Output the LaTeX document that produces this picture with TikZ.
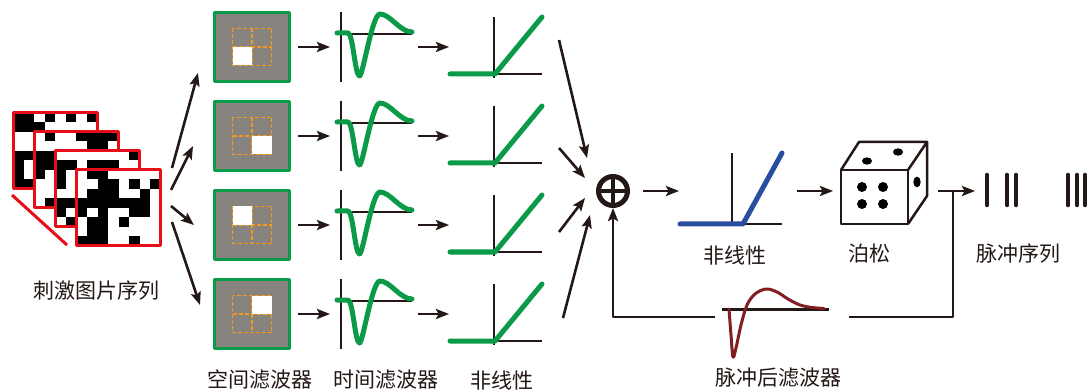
\documentclass[tikz,border=0pt]{standalone}
\usepackage{fontspec}
\setmainfont{Noto Sans CJK SC}
\usetikzlibrary{arrows.meta, positioning, calc}
\definecolor{ink}{HTML}{231815}
\definecolor{stimred}{HTML}{E60E19}
\definecolor{filtgreen}{HTML}{0B9B48}
\definecolor{surround}{HTML}{87837E}
\definecolor{gridorange}{HTML}{F39A1E}
\definecolor{outblue}{HTML}{2A4E9E}
\definecolor{spikered}{HTML}{821E22}
\newcommand{\noiseframe}[2]{%
  \fill[white] (#1,#2) rectangle ++(84,76);
  \foreach \i in {0,...,7}{%
    \foreach \j in {0,...,7}{%
      \pgfmathrandominteger{\pix}{0}{1}%
      \ifnum\pix=1 \fill[black] (#1+10.5*\i,#2+9.5*\j) rectangle ++(10.5,9.5);\fi}}
  \draw[stimred, line width=3] (#1,#2) rectangle ++(84,76);}

\begin{document}
\begin{tikzpicture}[x=1pt, y=-1pt, line join=round,
  lab/.style={text=ink, font=\fontsize{21}{25}\selectfont, inner sep=0pt},
  arr/.style={draw=ink, line width=2.6, -{Stealth[length=13pt, width=10pt, inset=2.5pt]}},
  wire/.style={draw=ink, line width=2.6},
  axis/.style={draw=ink, line width=2.2},
  curve/.style={draw=#1, line width=5, line cap=round},
  sfbox/.style={draw=filtgreen, line width=3, fill=surround, minimum width=75,
    minimum height=69, inner sep=0pt},
  plotbox/.style={inner sep=0pt, outer sep=0pt, minimum width=#1, minimum height=70},
  dashgrid/.style={gridorange, line width=1.3, dash pattern=on 4pt off 2pt}]
  \fill[white] (0,0) rectangle (1087,390);
  \useasboundingbox (0,0) rectangle (1087,390);

  % stack of noise frames
  \pgfmathsetseed{17}
  \foreach \k in {0,...,3}{\noiseframe{13+21.3*\k}{113+18.9*\k}}
  \draw[stimred, line width=3] (12,195) -- (67,245);
  \node[lab] (stimlab) at (97,291) {刺激图片序列};

  % four subunits: spatial filter, temporal filter, nonlinearity
  \foreach \r/\wx/\wy in {1/-1/1, 2/1/1, 3/-1/-1, 4/1/-1}{
    \pgfmathsetmacro{\ry}{47+89*(\r-1)}
    \node[sfbox] (sf\r) at (252,\ry) {};
    \begin{scope}[shift={(252,\ry)}]
      \draw[dashgrid] (-19.5,-18.5) rectangle (19.5,18.5)
        (0,-18.5) -- (0,18.5) (-19.5,0) -- (19.5,0);
      \fill[white] (0,0) rectangle (19.5*\wx,18.5*\wy);
    \end{scope}
    \node[plotbox=74] (tf\r) at (375,\ry) {};
    \node[plotbox=92] (nl\r) at (496,\ry) {};
    \begin{scope}[shift={(0,\ry)}]
      \draw[axis] (341,-35) -- (341,35) (340,-13) -- (412,-13);
      \draw[curve=filtgreen] (337,-14) -- (348,-14)
        .. controls (353,-14) and (355,29) .. (359.5,29)
        .. controls (363,29) and (372,-33) .. (380,-33)
        .. controls (390,-33) and (400,-15) .. (412,-15);
      \draw[axis] (494,-30) -- (494,31) (494,27) -- (542,27);
      \draw[curve=filtgreen] (450,27) -- (495,27) -- (542,-30);
    \end{scope}
    \draw[arr, shorten <=7pt, shorten >=8pt] (sf\r) -- (tf\r);
    \draw[arr, shorten <=6pt, shorten >=1pt] (tf\r) -- (nl\r);
  }
  \node[lab] (sflab) at (260,380) {空间滤波器};
  \node[lab] (tflab) at (386,380) {时间滤波器};
  \node[lab] (nllab) at (502,380) {非线性};

  % fan out from the stimulus
  \foreach \k/\ax/\ay/\bx/\by in {1/172/168/198/73, 2/171/190/193/146,
      3/171/206/194/225, 4/172/222/200/305}{
    \coordinate (fan\k) at (\ax,\ay);
    \coordinate (feed\k) at (\bx,\by);
    \draw[arr] (fan\k) -- (feed\k);
  }

  % summation
  \node[circle, draw=ink, line width=5, minimum size=29, inner sep=0pt] (sum) at (613,191) {};
  \draw[ink, line width=4] ($(sum)+(-12,0)$) -- ($(sum)+(12,0)$)
    ($(sum)+(0,-12)$) -- ($(sum)+(0,12)$);
  \foreach \k/\ax/\ay/\bx/\by in {1/559/40/587/158, 2/559/148/585/178,
      3/559/232/585/198, 4/563/318/590/215}{
    \coordinate (out\k) at (\ax,\ay);
    \coordinate (in\k) at (\bx,\by);
    \draw[arr] (out\k) -- (in\k);
  }

  % output nonlinearity
  \node[plotbox=102] (nlout) at (731,191) {};
  \draw[axis] (732,153) -- (732,222) (732,224) -- (782,224);
  \draw[curve=outblue] (680,224) -- (743,224) -- (782,153);
  \node[lab] (nloutlab) at (735,255) {非线性};
  \draw[arr, shorten <=13pt, shorten >=1pt] (sum) -- (nlout);

  % poisson die
  \node[plotbox=86, minimum height=98] (dice) at (884,191) {};
  \draw[ink, line width=2.5, fill=white] (841,170) rectangle (908,224);
  \draw[ink, line width=2.5] (841,170) -- (859,142) -- (927,142) -- (908,170)
    (908,224) -- (927,196) -- (927,142);
  \foreach \dx/\dy in {862/187, 883/187, 862/204, 883/204}
    \fill[black] (\dx,\dy) circle[radius=5];
  \fill[black] (867,161) ellipse[x radius=5, y radius=3.7]
    (898,152) ellipse[x radius=5, y radius=3.7]
    (917,182) ellipse[x radius=3.7, y radius=5.3];
  \node[lab] (dicelab) at (869,254) {泊松};
  \draw[arr, shorten <=15pt, shorten >=8pt] (nlout) -- (dice.west);

  % spike train
  \node[plotbox=102] (spikes) at (1036,191) {};
  \foreach \sx in {987,1007,1016,1068,1077,1085}
    \draw[ink, line width=3.5, line cap=round] (\sx,174.5) -- (\sx,205.5);
  \node[lab] (spikelab) at (1018,254) {脉冲序列};
  \draw[arr, shorten <=11pt, shorten >=10pt] (dice) -- (spikes);

  % post-spike feedback
  \node[plotbox=134] (psf) at (782,317) {};
  \draw[draw=ink, line width=3] (722,309) -- (829,309);
  \draw[draw=spikered, line width=3, line cap=round] plot[smooth, tension=0.55] coordinates
    {(729,309) (731,335) (733,357) (736,348) (741,325) (747,305) (755,294)
     (766,289) (777,292) (788,299) (800,305) (812,307.5) (824,308.5)};
  \node[lab] (psflab) at (778,378) {脉冲后滤波器};
  \coordinate (tee) at (953,191);
  \draw[wire] (tee) |- (psf.east);
  \draw[arr] (psf.west) -| (sum.south);
\end{tikzpicture}
\end{document}
